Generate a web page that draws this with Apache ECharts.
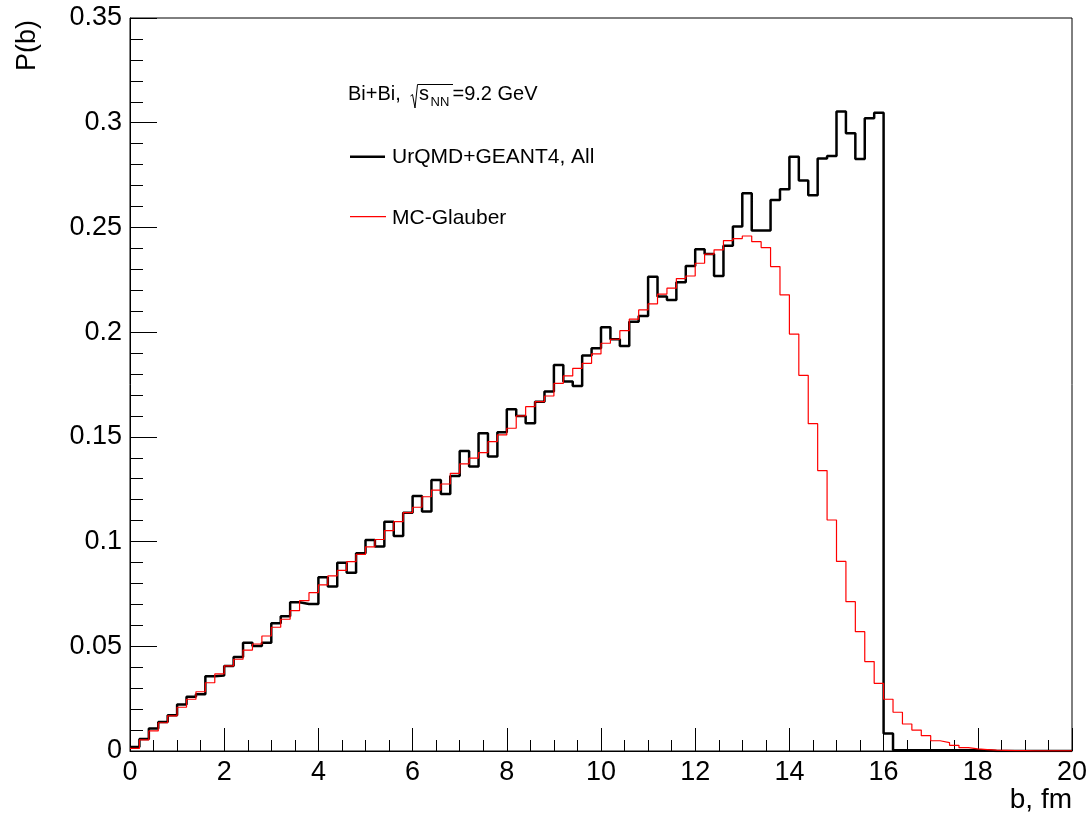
<!DOCTYPE html>
<html>
<head>
<meta charset="utf-8">
<script src="https://cdn.jsdelivr.net/npm/echarts@6/dist/echarts.min.js"></script>
<style>
html,body{margin:0;padding:0;background:#fff;}
#chart{width:1091px;height:817px;}
</style>
</head>
<body>
<div id="chart"></div>
<script>
// Histogram bin width (fm); bins start at b = 0
const BIN_WIDTH = 0.2;
const X_MAX = 20;

// UrQMD+GEANT4, All  (100 bins, 0-20 fm)
const urqmdValues = [
  0.0019, 0.0057, 0.0107, 0.0138, 0.0171, 0.0222, 0.0259, 0.0271, 0.0357, 0.0360,
  0.0406, 0.0449, 0.0517, 0.0501, 0.0517, 0.0610, 0.0643, 0.0710, 0.0702, 0.0702,
  0.0830, 0.0786, 0.0899, 0.0851, 0.0944, 0.1008, 0.0976, 0.1095, 0.1027, 0.1138,
  0.1218, 0.1143, 0.1294, 0.1227, 0.1313, 0.1433, 0.1358, 0.1517, 0.1406, 0.1522,
  0.1632, 0.1600, 0.1565, 0.1668, 0.1716, 0.1843, 0.1764, 0.1743, 0.1888, 0.1923,
  0.2023, 0.1966, 0.1934, 0.2050, 0.2077, 0.2265, 0.2170, 0.2154, 0.2238, 0.2316,
  0.2396, 0.2373, 0.2268, 0.2412, 0.2504, 0.2663, 0.2485, 0.2485, 0.2631, 0.2682,
  0.2838, 0.2724, 0.2654, 0.2829, 0.2841, 0.3053, 0.2950, 0.2827, 0.3021, 0.3048,
  0.0084, 0.0003, 0.0003, 0.0003, 0.0003, 0.0003, 0.0003, 0.0003, 0.0003, 0.0003,
  0.0003, 0, 0, 0, 0, 0, 0, 0, 0, 0
];

// MC-Glauber  (100 bins, 0-20 fm)
const glauberValues = [
  0.0013, 0.0053, 0.0096, 0.0135, 0.0168, 0.0209, 0.0247, 0.0283, 0.0326, 0.0368,
  0.0406, 0.0438, 0.0482, 0.0511, 0.0549, 0.0591, 0.0629, 0.0670, 0.0718, 0.0756,
  0.0793, 0.0836, 0.0862, 0.0904, 0.0939, 0.0975, 0.1010, 0.1052, 0.1095, 0.1138,
  0.1164, 0.1214, 0.1246, 0.1275, 0.1326, 0.1371, 0.1398, 0.1425, 0.1477, 0.1509,
  0.1541, 0.1600, 0.1644, 0.1668, 0.1695, 0.1755, 0.1791, 0.1827, 0.1851, 0.1896,
  0.1947, 0.1966, 0.2007, 0.2062, 0.2106, 0.2135, 0.2182, 0.2210, 0.2256, 0.2268,
  0.2329, 0.2373, 0.2393, 0.2437, 0.2447, 0.2459, 0.2432, 0.2404, 0.2313, 0.2178,
  0.1991, 0.1794, 0.1563, 0.1339, 0.1103, 0.0905, 0.0713, 0.0570, 0.0427, 0.0323,
  0.0247, 0.0185, 0.0129, 0.0100, 0.0073, 0.0049, 0.0040, 0.0027, 0.0016, 0.0010,
  0.0007, 0.0004, 0.0003, 0.0002, 0.0002, 0.0001, 0.0001, 0.0001, 0.0001, 0.0001
];

const seriesNames = ['UrQMD+GEANT4, All', 'MC-Glauber'];

function toSteps(values) {
  const pts = values.map((v, i) => [Math.round(i * BIN_WIDTH * 10) / 10, v]);
  pts.push([X_MAX, values[values.length - 1]]);
  return pts;
}

const FONT = "'Liberation Sans', Arial, Helvetica, sans-serif";
const GRID = { left: 130, right: 19, top: 18, bottom: 66 };

const chart = echarts.init(document.getElementById('chart'), null, { renderer: 'canvas' });

chart.setOption({
  animation: false,
  backgroundColor: '#ffffff',
  grid: {
    left: GRID.left, right: GRID.right, top: GRID.top, bottom: GRID.bottom,
    show: true, borderColor: '#000', borderWidth: 1, backgroundColor: 'transparent'
  },
  xAxis: {
    type: 'value', min: 0, max: X_MAX, interval: 2,
    axisLine: { show: true, lineStyle: { color: '#000', width: 1 } },
    axisTick: { show: true, inside: true, length: 23, lineStyle: { color: '#000', width: 1 } },
    minorTick: { show: true, splitNumber: 4, length: 11, lineStyle: { color: '#000', width: 1 } },
    splitLine: { show: false },
    axisLabel: { color: '#000', fontFamily: FONT, fontSize: 27, margin: 8, showMinLabel: true, showMaxLabel: true }
  },
  yAxis: {
    type: 'value', min: 0, max: 0.35, interval: 0.05,
    axisLine: { show: true, lineStyle: { color: '#000', width: 1 } },
    axisTick: { show: true, inside: true, length: 27, lineStyle: { color: '#000', width: 1 } },
    minorTick: { show: true, splitNumber: 5, length: 13, lineStyle: { color: '#000', width: 1 } },
    splitLine: { show: false },
    axisLabel: {
      color: '#000', fontFamily: FONT, fontSize: 27, margin: 8,
      formatter: v => (Math.round(v * 100) / 100).toString()
    }
  },
  series: [
    {
      name: seriesNames[0], type: 'line', step: 'end', symbol: 'none', silent: true,
      data: toSteps(urqmdValues),
      lineStyle: { color: '#000000', width: 2.5 }, z: 2
    },
    {
      name: seriesNames[1], type: 'line', step: 'end', symbol: 'none', silent: true,
      data: toSteps(glauberValues),
      lineStyle: { color: '#ff0000', width: 1.2 }, z: 3
    }
  ],
  graphic: [
    // Axis titles
    { type: 'text', x: 28, y: 20, rotation: Math.PI / 2,
      style: { text: 'P(b)', font: '27px ' + FONT, fill: '#000', textAlign: 'right', textVerticalAlign: 'middle' } },
    { type: 'text', x: 1072, y: 800,
      style: { text: 'b, fm', font: '28px ' + FONT, fill: '#000', textAlign: 'right', textVerticalAlign: 'middle' } },
    // Header: Bi+Bi, sqrt(s_NN)=9.2 GeV
    { type: 'text', x: 348, y: 94.5,
      style: { text: 'Bi+Bi,', font: '20px ' + FONT, fill: '#000', textAlign: 'left', textVerticalAlign: 'middle' } },
    { type: 'polyline', shape: { points: [[410.5, 96], [412.5, 94.5], [415, 108], [417.5, 84.5], [453, 84.5]] },
      style: { stroke: '#000', lineWidth: 1, fill: null } },
    { type: 'text', x: 419, y: 94.5,
      style: { text: 's', font: '20px ' + FONT, fill: '#000', textAlign: 'left', textVerticalAlign: 'middle' } },
    { type: 'text', x: 430.5, y: 102,
      style: { text: 'NN', font: '13px ' + FONT, fill: '#000', textAlign: 'left', textVerticalAlign: 'middle' } },
    { type: 'text', x: 452.5, y: 94.5,
      style: { text: '=9.2 GeV', font: '20px ' + FONT, fill: '#000', textAlign: 'left', textVerticalAlign: 'middle' } },
    // Legend
    { type: 'line', shape: { x1: 350, y1: 156.7, x2: 385, y2: 156.7 }, style: { stroke: '#000', lineWidth: 2.5 } },
    { type: 'text', x: 392, y: 157.2,
      style: { text: seriesNames[0], font: '21px ' + FONT, fill: '#000', textAlign: 'left', textVerticalAlign: 'middle' } },
    { type: 'line', shape: { x1: 350, y1: 216.7, x2: 386, y2: 216.7 }, style: { stroke: '#ff0000', lineWidth: 1.2 } },
    { type: 'text', x: 392, y: 218.3,
      style: { text: seriesNames[1], font: '21px ' + FONT, fill: '#000', textAlign: 'left', textVerticalAlign: 'middle' } }
  ]
});
</script>
</body>
</html>
